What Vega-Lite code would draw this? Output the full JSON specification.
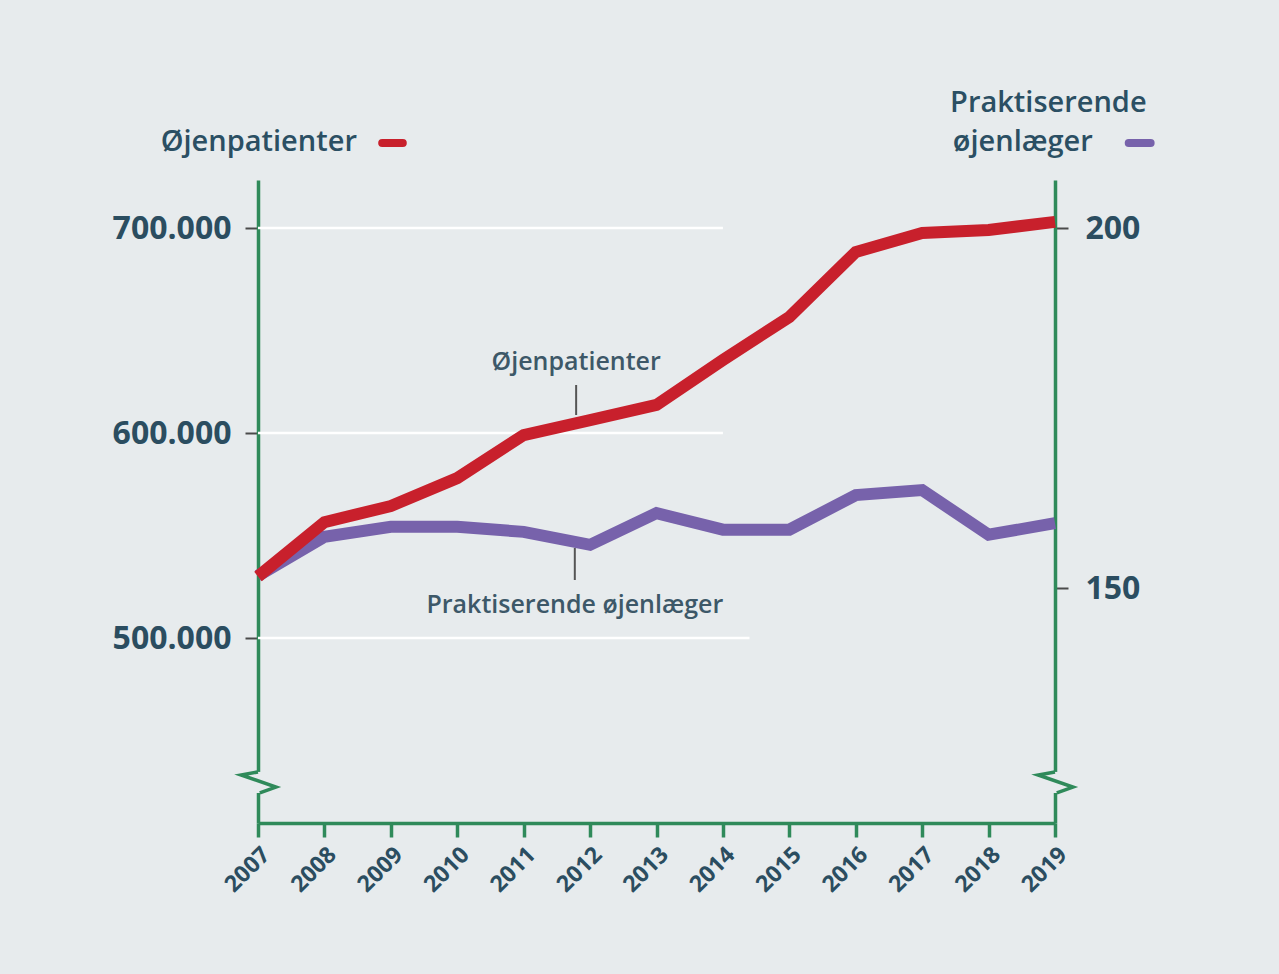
{
  "$schema": "https://vega.github.io/schema/vega-lite/v6.json",
  "width": 797,
  "height": 643,
  "autosize": {"type": "none"},
  "padding": {"left": 258, "top": 180, "right": 224, "bottom": 151},
  "background": "#e7ebed",
  "config": {
    "view": {"stroke": null},
    "font": "Open Sans",
    "locale": {"number": {"decimal": ",", "thousands": ".", "grouping": [3], "currency": ["", " kr."]}}
  },
  "datasets": {
    "main": [
      {"year": 2007, "patienter": 530000, "laeger": 151.7},
      {"year": 2008, "patienter": 556500, "laeger": 157.1},
      {"year": 2009, "patienter": 564400, "laeger": 158.5},
      {"year": 2010, "patienter": 578000, "laeger": 158.5},
      {"year": 2011, "patienter": 599000, "laeger": 157.8},
      {"year": 2012, "patienter": 606300, "laeger": 156.0},
      {"year": 2013, "patienter": 613700, "laeger": 160.4},
      {"year": 2014, "patienter": 635600, "laeger": 158.1},
      {"year": 2015, "patienter": 656600, "laeger": 158.1},
      {"year": 2016, "patienter": 688300, "laeger": 162.9},
      {"year": 2017, "patienter": 697600, "laeger": 163.6},
      {"year": 2018, "patienter": 699000, "laeger": 157.4},
      {"year": 2019, "patienter": 703000, "laeger": 159.0}
    ],
    "grid": [
      {"g": 500000, "year": 2007, "year2": 2014.4},
      {"g": 600000, "year": 2007, "year2": 2014},
      {"g": 700000, "year": 2007, "year2": 2014}
    ],
    "notes": [
      {"year": 2011.79, "v": 634634, "label": "Øjenpatienter"},
      {"year": 2011.77, "v": 516098, "label": "Praktiserende øjenlæger"}
    ],
    "pointers": [
      {"year": 2011.79, "v": 623415, "v2": 608780},
      {"year": 2011.77, "v": 543902, "v2": 528293}
    ],
    "titlesLeft": [{"year": 2008.49, "v": 741951, "label": "Øjenpatienter"}],
    "titlesRight": [
      {"year": 2017.42, "v": 760976, "label": "Praktiserende"},
      {"year": 2017.46, "v": 741951, "label": "øjenlæger"}
    ],
    "keys": [
      {"year": 2008.87, "year2": 2009.18, "v": 741463, "series": "Øjenpatienter"},
      {"year": 2020.11, "year2": 2020.44, "v": 741463, "series": "Praktiserende øjenlæger"}
    ],
    "breaks": [{"year": 2007, "v": 429756}, {"year": 2019, "v": 429756}]
  },
  "data": {"name": "main"},
  "encoding": {
    "x": {
      "field": "year",
      "type": "quantitative",
      "scale": {"domain": [2007, 2019], "nice": false, "zero": false},
      "axis": {
        "values": [2007, 2008, 2009, 2010, 2011, 2012, 2013, 2014, 2015, 2016, 2017, 2018, 2019],
        "format": "d",
        "title": null,
        "grid": false,
        "labelAngle": -45,
        "labelFontSize": 23,
        "labelFontWeight": "bold",
        "labelColor": "#2b4d60",
        "labelPadding": 6,
        "labelFlush": false,
        "labelOverlap": false,
        "domainColor": "#2f8a5a",
        "domainWidth": 3.5,
        "tickColor": "#2f8a5a",
        "tickWidth": 3.5,
        "tickSize": 14
      }
    }
  },
  "layer": [
    {
      "mark": {"type": "line", "stroke": "#7762ab", "strokeWidth": 12},
      "encoding": {
        "y": {
          "field": "laeger",
          "type": "quantitative",
          "scale": {"domain": [117.361, 206.667], "nice": false, "zero": false},
          "axis": {
            "orient": "right",
            "values": [150, 200],
            "format": "d",
            "title": null,
            "grid": false,
            "labelFontSize": 32,
            "labelFontWeight": "bold",
            "labelColor": "#2b4d60",
            "labelPadding": 17,
            "domainColor": "#2f8a5a",
            "domainWidth": 3.5,
            "tickColor": "#4a4a4a",
            "tickWidth": 2,
            "tickSize": 13
          }
        }
      }
    },
    {
      "data": {"name": "grid"},
      "mark": {"type": "rule", "stroke": "#ffffff", "strokeWidth": 2.5},
      "encoding": {
        "x2": {"field": "year2"},
        "y": {"field": "g", "type": "quantitative", "scale": {"domain": [409756, 723415], "nice": false, "zero": false}, "axis": null}
      }
    },
    {
      "mark": {"type": "line", "stroke": "#c8202c", "strokeWidth": 12},
      "encoding": {
        "y": {
          "field": "patienter",
          "type": "quantitative",
          "scale": {"domain": [409756, 723415], "nice": false, "zero": false},
          "axis": {
            "orient": "left",
            "values": [500000, 600000, 700000],
            "format": ",d",
            "title": null,
            "grid": false,
            "labelFontSize": 32,
            "labelFontWeight": "bold",
            "labelColor": "#2b4d60",
            "labelPadding": 14,
            "domainColor": "#2f8a5a",
            "domainWidth": 3.5,
            "tickColor": "#4a4a4a",
            "tickWidth": 2,
            "tickSize": 13
          }
        }
      }
    },
    {
      "data": {"name": "notes"},
      "mark": {"type": "text", "fontSize": 25, "fontWeight": 600, "fill": "#3d5868", "align": "center", "baseline": "middle"},
      "encoding": {
        "text": {"field": "label"},
        "y": {"field": "v", "type": "quantitative", "scale": {"domain": [409756, 723415], "nice": false, "zero": false}, "axis": null}
      }
    },
    {
      "data": {"name": "pointers"},
      "mark": {"type": "rule", "stroke": "#555555", "strokeWidth": 2},
      "encoding": {
        "y": {"field": "v", "type": "quantitative", "scale": {"domain": [409756, 723415], "nice": false, "zero": false}, "axis": null},
        "y2": {"field": "v2"}
      }
    },
    {
      "data": {"name": "breaks"},
      "mark": {"type": "point", "shape": "M-0.25,-0.56L0.25,-0.56L0.25,0.61L-0.25,0.61Z", "filled": true, "fill": "#e7ebed", "strokeWidth": 0, "size": 1296, "opacity": 1},
      "encoding": {
        "y": {"field": "v", "type": "quantitative", "scale": {"domain": [409756, 723415], "nice": false, "zero": false}, "axis": null}
      }
    },
    {
      "data": {"name": "breaks"},
      "mark": {"type": "point", "shape": "M0,-0.56L-0.94,-0.39L1,0.28L0.1,0.61", "filled": false, "stroke": "#2f8a5a", "strokeWidth": 3.5, "size": 1296, "opacity": 1},
      "encoding": {
        "y": {"field": "v", "type": "quantitative", "scale": {"domain": [409756, 723415], "nice": false, "zero": false}, "axis": null}
      }
    },
    {
      "data": {"name": "titlesLeft"},
      "mark": {"type": "text", "fontSize": 29, "fontWeight": 600, "fill": "#2b4f63", "align": "right", "baseline": "middle"},
      "encoding": {
        "text": {"field": "label"},
        "y": {"field": "v", "type": "quantitative", "scale": {"domain": [409756, 723415], "nice": false, "zero": false}, "axis": null}
      }
    },
    {
      "data": {"name": "titlesRight"},
      "mark": {"type": "text", "fontSize": 29, "fontWeight": 600, "fill": "#2b4f63", "align": "left", "baseline": "middle"},
      "encoding": {
        "text": {"field": "label"},
        "y": {"field": "v", "type": "quantitative", "scale": {"domain": [409756, 723415], "nice": false, "zero": false}, "axis": null}
      }
    },
    {
      "data": {"name": "keys"},
      "mark": {"type": "rule", "strokeWidth": 8, "strokeCap": "round"},
      "encoding": {
        "x2": {"field": "year2"},
        "y": {"field": "v", "type": "quantitative", "scale": {"domain": [409756, 723415], "nice": false, "zero": false}, "axis": null},
        "color": {"field": "series", "type": "nominal", "scale": {"domain": ["Øjenpatienter", "Praktiserende øjenlæger"], "range": ["#c8202c", "#7762ab"]}, "legend": null}
      }
    }
  ],
  "resolve": {"scale": {"y": "independent"}}
}
